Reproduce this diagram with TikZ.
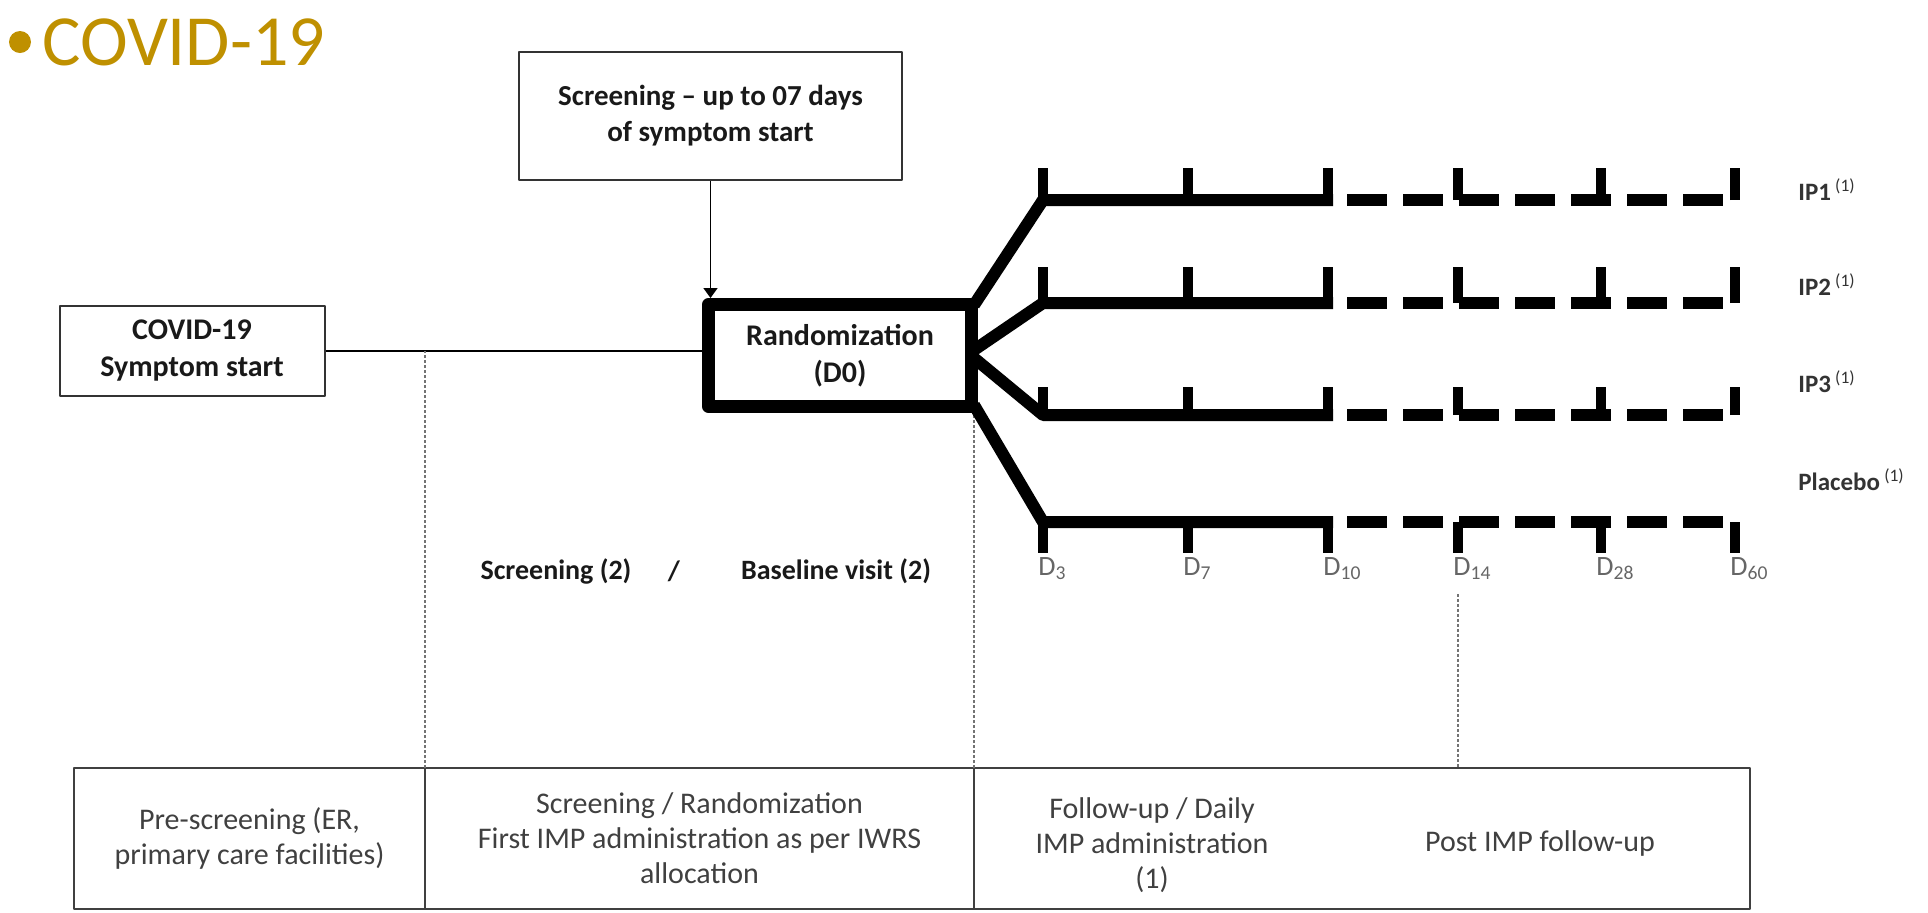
\documentclass[tikz,border=0pt]{standalone}
\usepackage{fontspec}
\setmainfont{Carlito}
\usetikzlibrary{arrows.meta,calc,positioning}
\definecolor{vang}{HTML}{BF9000}
\begin{document}
\begin{tikzpicture}[line join = round,>={Triangle[length=5pt,width=7pt]},x = 0.5pt,y = -0.5pt,
    hop/.style={draw=black!80,line width=1pt,align=center,inner sep=0pt,text=black!90,font=\fontsize{15}{18.5}\selectfont\bfseries},
    hopday/.style={hop,draw=black,line width=6.5pt},
    chu/.style={align=center,inner sep=0pt,text=black!75,font=\fontsize{15}{17.5}\selectfont},
    o/.style={chu,draw=black!75,line width=0.9pt,minimum height=70.5pt,outer sep=0pt},
    nhanh/.style={line width=6pt},
    vach/.style={line width=5pt},
    netdut/.style={line width=6pt,dash pattern=on 20pt off 8pt},
    cham/.style={black!55,line width=0.7pt,dash pattern=on 1.5pt off 1pt},
    nhan/.style={text=black!90,font=\fontsize{14}{17}\selectfont\bfseries},
    ngay/.style={anchor=base west,inner sep=0pt,text=black!60,font=\fontsize{14}{16}\selectfont},
    nhom/.style={anchor=base west,inner sep=0pt,text=black!80,font=\fontsize{12.5}{15}\selectfont\bfseries}]
    \useasboundingbox (0,0) rectangle (1928,912);
    %Tiêu đề
    \fill[vang] (20,42) circle (5.5pt);
    \node[anchor=base west,inner sep=0pt,text=vang,font=\fontsize{36}{40}\selectfont] (tieude) at (42,65) {COVID-19};
    %Các hộp và đường nối
    \node[hop,minimum width=191.5pt,minimum height=64pt,font=\fontsize{14.5}{18}\selectfont\bfseries] (sang) at (710.5,116) {Screening – up to 07 days\\of symptom start};
    \node[hop,minimum width=132.5pt,minimum height=45pt] (khoi) at (192,351) {COVID-19\\Symptom start};
    \node[hopday,minimum width=131.5pt,minimum height=51pt] (ngau) at (840,355.5) {Randomization\\(D0)};
    \draw[line width=0.8pt,->] (sang.south) -- (sang.south |- ngau.north);
    \draw[line width=0.8pt] (khoi.east) -- (khoi.east -| ngau.west);
    %Bảng các giai đoạn
    \node[o,minimum width=175.5pt] (o1) at (249.5,838.5) {Pre-screening (ER,\\primary care facilities)};
    \node[o,minimum width=274.5pt,right=0pt of o1] (o2) {Screening / Randomization\\First IMP administration as per IWRS\\allocation};
    \node[o,minimum width=388pt,right=0pt of o2] (o3) {};
    \node[chu] (o3a) at (1152,845) {Follow-up / Daily\\IMP administration\\(1)};
    \node[chu] (o3b) at (1540,843) {Post IMP follow-up};
    %Các đường chấm
    \draw[cham] (o1.north east) -- (o1.north east |- khoi.east);
    \draw[cham] (o2.north east) -- (o2.north east |- ngau.south);
    \coordinate (m14) at (1458,594);
    \draw[cham] (m14) -- (m14 |- o3.north);
    %Các nhánh điều trị
    \foreach \y/\s/\h in {200/-50.5/-32,303/-5.5/-36,415/2.5/-28,522/49.5/31}{
        \draw[nhanh] ($(ngau.east)+(-4,\s)$) -- (1043,\y) -- (1333,\y);
        \draw[netdut] (1347,\y) -- (1723,\y);
        \foreach \x in {1043,1188,1328,1458,1601,1735} \draw[vach] (\x,\y) -- ++(0,\h);
    }
    %Nhãn các nhóm
    \node[nhom] (ip1) at (1798,200) {IP1\,\textsuperscript{\mdseries(1)}};
    \node[nhom] (ip2) at (1798,295) {IP2\,\textsuperscript{\mdseries(1)}};
    \node[nhom] (ip3) at (1798,392) {IP3\,\textsuperscript{\mdseries(1)}};
    \node[nhom] (pla) at (1798,490) {Placebo\,\textsuperscript{\mdseries(1)}};
    %Nhãn các ngày
    \foreach \x/\n [count=\i] in {1043/3,1188/7,1328/10,1458/14,1601/28,1735/60}
        \node[ngay] (d\i) at (\x-5,575) {D\textsubscript{\n}};
    %Sàng lọc và thăm khám ban đầu
    \node[nhan] (sl) at (556,571) {Screening (2)};
    \node[nhan] (gach) at (674,571) {/};
    \node[nhan] (nen) at (836,571) {Baseline visit (2)};
\end{tikzpicture}
\end{document}
